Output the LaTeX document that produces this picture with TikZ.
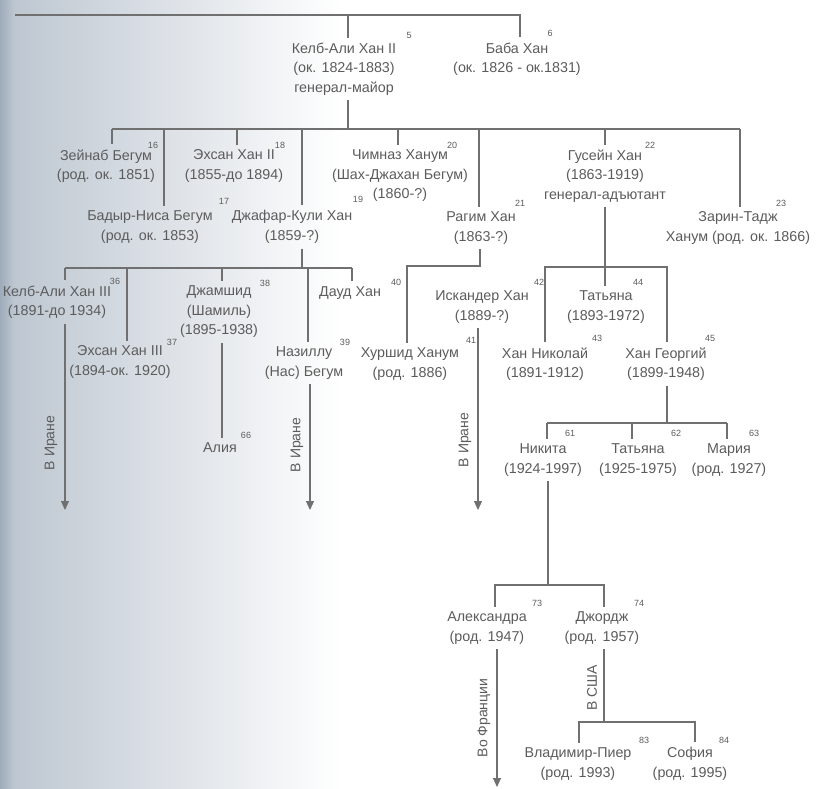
\documentclass[tikz,border=0pt]{standalone}
\usepackage{fontspec}
\setmainfont{Liberation Sans}
\usetikzlibrary{arrows.meta}
\definecolor{tekst}{RGB}{92,92,92}
\definecolor{shtrih}{RGB}{112,112,112}
\definecolor{fon}{RGB}{190,199,209}
\definecolor{kraj}{RGB}{158,171,186}
\begin{document}
\begin{tikzpicture}[
  x=1pt, y=-1pt,
  liniya/.style={draw=shtrih, line width=1.1pt},
  strelka/.style={liniya, -{Triangle[width=8pt,length=9pt]}},
  imya/.style={align=center, text=tekst, inner xsep=1pt, inner ysep=5pt,
               font=\fontsize{14.3}{19.5}\selectfont},
  nomer/.style={text=tekst, inner sep=0pt, font=\fontsize{9}{9}\selectfont},
  podpis/.style={text=tekst, inner sep=1pt, rotate=90,
                 font=\fontsize{14}{14}\selectfont}
]
\useasboundingbox (0,0) rectangle (816,788);

%--------------------------------------------------------------
% Фон: серо-голубой край отсканированной страницы
%--------------------------------------------------------------
\fill[white] (0,0) rectangle (816,788);
\shade[left color=kraj, right color=fon] (0,0) rectangle (14,788);
\shade[left color=fon, right color=white] (14,0) rectangle (340,788);

%--------------------------------------------------------------
% Первое поколение
%--------------------------------------------------------------
\node[imya] (kali2) at (344,69)
  {Келб-Али Хан II\\(ок. 1824-1883)\\генерал-майор};
\node[imya] (baba) at (517,59) {Баба Хан\\(ок. 1826 - ок.1831)};
\node[nomer] (n5) at (409,35) {5};
\node[nomer] (n6) at (550,33) {6};

\coordinate (v0l) at (15,15);
\coordinate (v0k) at (348,15);
\coordinate (v0r) at (520,15);
\draw[liniya] (v0l) -- (v0r) -- (v0r |- baba.north);
\draw[liniya] (v0k) -- (v0k |- kali2.north);

%--------------------------------------------------------------
% Дети Келб-Али Хана II
%--------------------------------------------------------------
\node[imya] (zeinab)  at (106,166) {Зейнаб Бегум\\(род. ок. 1851)};
\node[imya] (badyr)   at (150,227) {Бадыр-Ниса Бегум\\(род. ок. 1853)};
\node[imya] (ehsan2)  at (234,166) {Эхсан Хан II\\(1855-до 1894)};
\node[imya] (dzhafar) at (292,227) {Джафар-Кули Хан\\(1859-?)};
\node[imya] (chimnaz) at (400,176)
  {Чимназ Ханум\\(Шах-Джахан Бегум)\\(1860-?)};
\node[imya] (ragim)   at (481,228) {Рагим Хан\\(1863-?)};
\node[imya] (gusein)  at (605,176)
  {Гусейн Хан\\(1863-1919)\\генерал-адъютант};
\node[imya] (zarin)   at (738,228) {Зарин-Тадж\\Ханум (род. ок. 1866)};

\node[nomer] (n16) at (153,145) {16};
\node[nomer] (n17) at (224,201) {17};
\node[nomer] (n18) at (280,145) {18};
\node[nomer] (n19) at (358,199) {19};
\node[nomer] (n20) at (452,145) {20};
\node[nomer] (n21) at (520,203) {21};
\node[nomer] (n22) at (650,145) {22};
\node[nomer] (n23) at (781,203) {23};

\coordinate (v1l) at (112,129);
\coordinate (v1r) at (740,129);
\draw[liniya] (kali2.south -| v0k) -- (v0k |- v1l);
\draw[liniya] (v1l) -- (v1r);
\foreach \x/\kto in {112/zeinab, 164/badyr, 237/ehsan2, 302/dzhafar,
                     398/chimnaz, 479/ragim, 605/gusein, 740/zarin}
  \draw[liniya] (\x,129) -- (\x,129 |- \kto.north);

%--------------------------------------------------------------
% Дети Джафар-Кули Хана
%--------------------------------------------------------------
\node[imya] (kali3)     at (57,302)  {Келб-Али Хан III\\(1891-до 1934)};
\node[imya] (ehsan3)    at (120,362) {Эхсан Хан III\\(1894-ок. 1920)};
\node[imya] (dzhamshid) at (219,312) {Джамшид\\(Шамиль)\\(1895-1938)};
\node[imya] (nazillu)   at (304,363) {Назиллу\\(Нас) Бегум};
\node[imya] (daud)      at (350,293) {Дауд Хан};
\node[imya] (aliya)     at (220,448) {Алия};

\node[nomer] (n36) at (115,281) {36};
\node[nomer] (n37) at (172,342) {37};
\node[nomer] (n38) at (265,283) {38};
\node[nomer] (n39) at (345,342) {39};
\node[nomer] (n40) at (396,282) {40};
\node[nomer] (n66) at (246,435) {66};

\coordinate (v2l) at (65,268);
\coordinate (v2k) at (302,268);
\coordinate (v2r) at (352,268);
\draw[liniya] (dzhafar.south -| v2k) -- (v2k);
\draw[liniya] (v2l) -- (v2r);
\foreach \x/\kto in {65/kali3, 127/ehsan3, 222/dzhamshid,
                     308/nazillu, 352/daud}
  \draw[liniya] (\x,268) -- (\x,268 |- \kto.north);
\draw[liniya] (222,268 |- dzhamshid.south) -- (222,268 |- aliya.north);

% Ветви, ушедшие в Иран
\coordinate (a1) at (65,510);
\coordinate (a2) at (310,510);
\draw[strelka] (kali3.south -| a1) -- (a1);
\draw[strelka] (nazillu.south -| a2) -- (a2);
\node[podpis] (iran1) at (51,443)  {В Иране};
\node[podpis] (iran2) at (297,445) {В Иране};

%--------------------------------------------------------------
% Дети Рагим Хана
%--------------------------------------------------------------
\node[imya] (iskander) at (482,307) {Искандер Хан\\(1889-?)};
\node[imya] (khurshid) at (410,364) {Хуршид Ханум\\(род. 1886)};
\node[nomer] (n41) at (471,340) {41};
\node[nomer] (n42) at (539,282) {42};

\coordinate (v3l) at (407,266);
\coordinate (v3r) at (480,266);
\draw[liniya] (ragim.south -| v3r) -- (v3r) -- (v3l) -- (v3l |- khurshid.north);

\coordinate (a3) at (478,510);
\draw[strelka] (iskander.south -| a3) -- (a3);
\node[podpis] (iran3) at (465,440) {В Иране};

%--------------------------------------------------------------
% Дети Гусейн Хана
%--------------------------------------------------------------
\node[imya] (tatiana1) at (606,307) {Татьяна\\(1893-1972)};
\node[imya] (nikolai)  at (545,364) {Хан Николай\\(1891-1912)};
\node[imya] (georgii)  at (666,364) {Хан Георгий\\(1899-1948)};
\node[nomer] (n43) at (597,338) {43};
\node[nomer] (n44) at (638,282) {44};
\node[nomer] (n45) at (710,338) {45};

\coordinate (v4l) at (545,267);
\coordinate (v4k) at (605,267);
\coordinate (v4r) at (667,267);
\draw[liniya] (gusein.south -| v4k) -- (v4k |- tatiana1.north);
\draw[liniya] (v4l |- nikolai.north) -- (v4l) -- (v4r) -- (v4r |- georgii.north);

%--------------------------------------------------------------
% Дети Хана Георгия
%--------------------------------------------------------------
\node[imya] (nikita)   at (543,460) {Никита\\(1924-1997)};
\node[imya] (tatiana2) at (638,460) {Татьяна\\(1925-1975)};
\node[imya] (mariya)   at (729,460) {Мария\\(род. 1927)};
\node[nomer] (n61) at (570,433) {61};
\node[nomer] (n62) at (676,433) {62};
\node[nomer] (n63) at (754,433) {63};

\coordinate (v5l) at (547,423);
\coordinate (v5r) at (727,423);
\draw[liniya] (georgii.south -| v4r) -- (v4r |- v5l);
\draw[liniya] (v5l) -- (v5r);
\foreach \x/\kto in {547/nikita, 632/tatiana2, 727/mariya}
  \draw[liniya] (\x,423) -- (\x,423 |- \kto.north);

%--------------------------------------------------------------
% Дети Никиты
%--------------------------------------------------------------
\node[imya] (aleksandra) at (487,628) {Александра\\(род. 1947)};
\node[imya] (dzhordzh)   at (602,628) {Джордж\\(род. 1957)};
\node[nomer] (n73) at (537,603) {73};
\node[nomer] (n74) at (639,603) {74};

\coordinate (v6k) at (548,585);
\coordinate (v6l) at (495,585);
\coordinate (v6r) at (604,585);
\draw[liniya] (nikita.south -| v6k) -- (v6k);
\draw[liniya] (v6l |- aleksandra.north) -- (v6l) -- (v6r) -- (v6r |- dzhordzh.north);

\coordinate (a4) at (497,787);
\draw[strelka] (aleksandra.south -| a4) -- (a4);
\node[podpis] (franciya) at (484,718) {Во Франции};

%--------------------------------------------------------------
% Дети Джорджа
%--------------------------------------------------------------
\node[imya] (vladimir) at (578,764) {Владимир-Пиер\\(род. 1993)};
\node[imya] (sofiya)   at (690,764) {София\\(род. 1995)};
\node[nomer] (n83) at (644,740) {83};
\node[nomer] (n84) at (724,740) {84};

\coordinate (v7l) at (579,722);
\coordinate (v7r) at (695,722);
\draw[liniya] (dzhordzh.south -| v6r) -- (v6r |- v7l);
\draw[liniya] (v7l |- vladimir.north) -- (v7l) -- (v7r) -- (v7r |- sofiya.north);
\node[podpis] (ssha) at (592,688) {В США};

\end{tikzpicture}
\end{document}
